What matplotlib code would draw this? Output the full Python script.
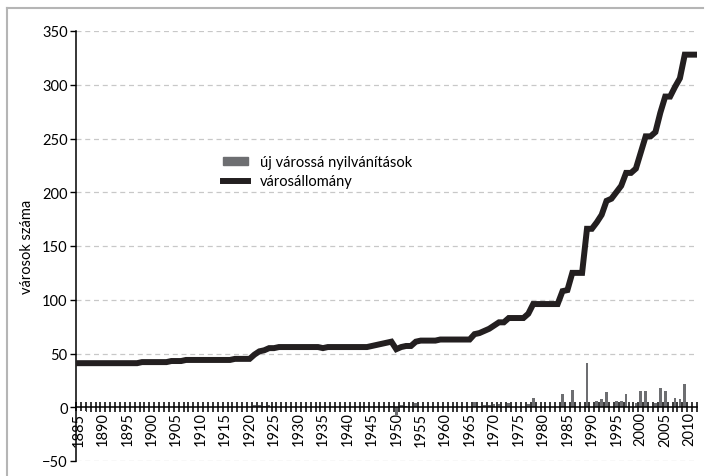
import matplotlib
matplotlib.use("Agg")
import matplotlib.pyplot as plt
from matplotlib.lines import Line2D
import numpy as np

years = list(range(1885, 2012))

# városállomány (number of towns), one value per year 1885-2011
town_stock = [
    41, 41, 41, 41, 41, 41, 41, 41, 41, 41,          # 1885-1894
    41, 41, 41, 42, 42, 42, 42, 42, 42, 43,          # 1895-1904
    43, 43, 44, 44, 44, 44, 44, 44, 44, 44,          # 1905-1914
    44, 44, 45, 45, 45, 45, 49, 52, 53, 55,          # 1915-1924
    55, 56, 56, 56, 56, 56, 56, 56, 56, 56,          # 1925-1934
    55, 56, 56, 56, 56, 56, 56, 56, 56, 56,          # 1935-1944
    57, 58, 59, 60, 61, 54, 56, 57, 57, 61,          # 1945-1954
    62, 62, 62, 62, 63, 63, 63, 63, 63, 63,          # 1955-1964
    63, 68, 69, 71, 73, 76, 79, 79, 83, 83,          # 1965-1974
    83, 83, 87, 96, 96, 96, 96, 96, 96, 108,         # 1975-1984
    109, 125, 125, 125, 166, 166, 172, 179, 192, 194,  # 1985-1994
    200, 206, 218, 218, 222, 237, 252, 252, 256, 274,  # 1995-2004
    289, 289, 298, 306, 328, 328, 328,               # 2005-2011
]

# új várossá nyilvánítások (new town declarations), years not listed are 0
new_towns = {
    1921: 2, 1922: 2, 1923: 1, 1924: 2,
    1949: 1, 1950: -7, 1951: 2, 1952: 1, 1954: 4,
    1966: 5, 1967: 1, 1968: 2, 1969: 2, 1970: 3, 1971: 3, 1973: 4,
    1977: 3, 1978: 9, 1984: 12, 1986: 16, 1989: 41,
    1991: 6, 1992: 8, 1993: 14, 1995: 6, 1996: 6, 1997: 12,
    1999: 4, 2000: 15, 2001: 15, 2003: 4, 2004: 18, 2005: 15,
    2007: 9, 2008: 8, 2009: 22,
}
new_values = [new_towns.get(y, 0) for y in years]

label_years = list(range(1885, 2011, 5))
y_ticks = [-50, 0, 50, 100, 150, 200, 250, 300, 350]

plt.rcParams['font.family'] = ['Lato', 'DejaVu Sans']

fig = plt.figure(figsize=(7.09, 4.77), dpi=100)
ax = fig.add_axes([76 / 709, 1 - 462 / 477, 621 / 709, 430 / 477])

bar_color = '#6d6e71'
line_color = '#231f20'

ax.bar(years, new_values, width=0.55, color=bar_color, zorder=3)
ax.plot(years, town_stock, color=line_color, lw=4.3, zorder=4,
        solid_joinstyle='miter')

ax.set_xlim(1884.5, 2011.5)
ax.set_ylim(-50, 350)

# gridlines
for v in y_ticks:
    if v != 0:
        ax.axhline(v, color='#c8c8c8', lw=0.9, ls=(0, (4, 3)), zorder=1)

ax.spines['top'].set_visible(False)
ax.spines['right'].set_visible(False)
ax.spines['bottom'].set_position(('data', 0))
ax.spines['left'].set_linewidth(1.1)
ax.spines['bottom'].set_linewidth(1.1)
ax.spines['bottom'].set_zorder(5)

ax.set_yticks(y_ticks)
ax.tick_params(axis='y', length=4, width=1, labelsize=10.5, pad=2)

# tick marks at category boundaries, labels centered on years
ax.set_xticks(np.arange(1884.5, 2012, 1.0))
ax.set_xticklabels([])
ax.tick_params(axis='x', which='major', direction='inout', length=7, width=1.1)
ax.set_xticks(label_years, minor=True)
labels = ax.set_xticklabels([str(y) for y in label_years], minor=True,
                            rotation=90, fontsize=10.5)
ax.tick_params(axis='x', which='minor', length=0, pad=3)
# the first label sits on the y axis line; let it hide the line like the original
labels[0].set_bbox(dict(facecolor='white', edgecolor='none', pad=0.5))

ax.set_ylabel('városok száma', fontsize=10.5, labelpad=6)

handles = [plt.Rectangle((0, 0), 1, 1, color=bar_color),
           Line2D([], [], color=line_color, lw=4.3)]
fig.legend(handles, ['új várossá nyilvánítások', 'városállomány'],
           loc='upper left', bbox_to_anchor=(210 / 709, 1 - 143 / 477),
           frameon=False, fontsize=10.5, handlelength=1.7, handleheight=0.5,
           handletextpad=0.8, labelspacing=0.35)

# grey frame of the figure
fig.add_artist(Line2D([6.5 / 709, 6.5 / 709], [0, 1 - 9 / 477],
                      color='#b5b5b5', lw=1.5, transform=fig.transFigure))
fig.add_artist(Line2D([6.5 / 709, 703 / 709], [1 - 9 / 477, 1 - 9 / 477],
                      color='#b5b5b5', lw=1.5, transform=fig.transFigure))

fig.savefig('out.png', dpi=100)
